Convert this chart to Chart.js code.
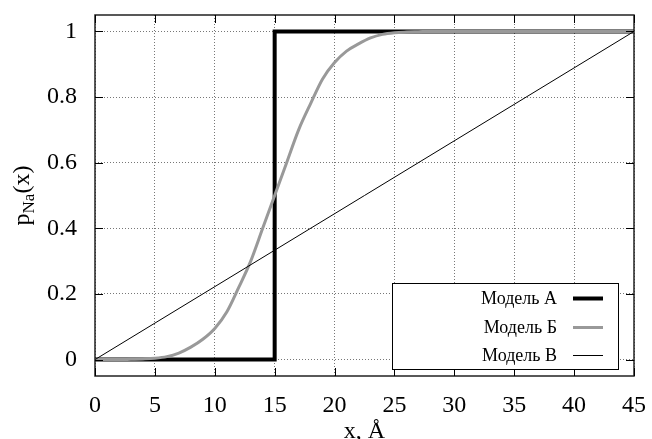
<!DOCTYPE html>
<html>
<head>
<meta charset="utf-8">
<script src="https://cdn.jsdelivr.net/npm/chart.js@4"></script>
<style>
  html, body { margin: 0; padding: 0; background: #fff; }
  #wrap { width: 652px; height: 439px; }
</style>
</head>
<body>
<div id="wrap"><canvas id="chart" width="652" height="439"></canvas></div>
<script>
// data
const xTicks = [0, 5, 10, 15, 20, 25, 30, 35, 40, 45];
const yTicks = [0, 0.2, 0.4, 0.6, 0.8, 1];
const yTickLabels = ["0", "0.2", "0.4", "0.6", "0.8", "1"];

const modelAx = [0, 15, 15, 45];
const modelAy = [0, 0, 1, 1];

const modelBx = [0, 2, 3, 4, 5, 6, 7, 8, 9, 10, 11, 12, 13, 14, 15, 16, 17, 18, 19, 20, 21, 22, 23, 24, 25, 26, 27, 28, 30, 45];
const modelBy = [0, 0, 0.001, 0.002, 0.004, 0.009, 0.02, 0.038, 0.062, 0.095, 0.145, 0.22, 0.3, 0.4, 0.5, 0.6, 0.7, 0.78, 0.855, 0.905, 0.94, 0.962, 0.98, 0.991, 0.996, 0.998, 0.999, 1, 1, 1];

const modelCx = [0, 45];
const modelCy = [0, 1];

const labels = ["Модель А", "Модель Б", "Модель В"];
const colors = ["#000000", "#999999", "#000000"];
const widths = [4, 3, 1];

const toPoints = (xs, ys) => xs.map((x, i) => ({ x: x, y: ys[i] }));

const serif = "'Liberation Serif', 'DejaVu Serif', serif";

// gnuplot style: inward ticks on all four sides, border, legend box, axis titles
const frame = {
  id: "frame",
  afterDraw(chart) {
    const { ctx, chartArea: a, scales } = chart;
    ctx.save();
    ctx.strokeStyle = "#222";
    ctx.lineWidth = 1.5;
    ctx.strokeRect(a.left, a.top, a.right - a.left, a.bottom - a.top);
    ctx.lineWidth = 1;
    ctx.strokeStyle = "#000";
    ctx.beginPath();
    xTicks.forEach(v => {
      const px = Math.round(scales.x.getPixelForValue(v)) + 0.5;
      ctx.moveTo(px, a.bottom); ctx.lineTo(px, a.bottom - 8);
      ctx.moveTo(px, a.top); ctx.lineTo(px, a.top + 8);
    });
    yTicks.forEach(v => {
      const py = Math.round(scales.y.getPixelForValue(v)) + 0.5;
      ctx.moveTo(a.left, py); ctx.lineTo(a.left + 8, py);
      ctx.moveTo(a.right, py); ctx.lineTo(a.right - 8, py);
    });
    ctx.stroke();

    // legend
    const bx = 392, by = 283, bw = 226, bh = 86;
    ctx.fillStyle = "#fff";
    ctx.fillRect(bx, by, bw, bh);
    ctx.strokeStyle = "#000";
    ctx.lineWidth = 1;
    ctx.strokeRect(bx + 0.5, by + 0.5, bw, bh);
    ctx.font = "18px " + serif;
    ctx.textAlign = "right";
    ctx.textBaseline = "middle";
    const rows = [298.5, 327.5, 355.5];
    labels.forEach((t, i) => {
      ctx.fillStyle = "#000";
      ctx.fillText(t, 557, rows[i] + 1);
      ctx.strokeStyle = colors[i];
      ctx.lineWidth = widths[i];
      ctx.beginPath();
      ctx.moveTo(573, rows[i]); ctx.lineTo(603, rows[i]);
      ctx.stroke();
    });

    // y title with subscript
    ctx.save();
    ctx.translate(29, (a.top + a.bottom) / 2);
    ctx.rotate(-Math.PI / 2);
    ctx.fillStyle = "#000";
    ctx.textBaseline = "alphabetic";
    ctx.textAlign = "left";
    ctx.font = "24px " + serif;
    const wp = ctx.measureText("p").width;
    ctx.font = "17px " + serif;
    const wn = ctx.measureText("Na").width;
    ctx.font = "24px " + serif;
    const wx = ctx.measureText("(x)").width;
    let sx = -(wp + wn + wx) / 2;
    ctx.fillText("p", sx, 0);
    sx += wp;
    ctx.font = "17px " + serif;
    ctx.fillText("Na", sx, 5);
    sx += wn;
    ctx.font = "24px " + serif;
    ctx.fillText("(x)", sx, 0);
    ctx.restore();

    // x title
    ctx.font = "24px " + serif;
    ctx.textAlign = "center";
    ctx.textBaseline = "alphabetic";
    ctx.fillStyle = "#000";
    ctx.fillText("x, Å", (a.left + a.right) / 2, 438);
    ctx.restore();
  }
};

new Chart(document.getElementById("chart"), {
  type: "scatter",
  data: {
    datasets: [
      { label: labels[0], data: toPoints(modelAx, modelAy), showLine: true, borderColor: colors[0], borderWidth: widths[0], pointRadius: 0, order: 3, borderCapStyle: "butt", borderJoinStyle: "miter" },
      { label: labels[1], data: toPoints(modelBx, modelBy), showLine: true, borderColor: colors[1], borderWidth: widths[1], pointRadius: 0, order: 2, cubicInterpolationMode: "monotone" },
      { label: labels[2], data: toPoints(modelCx, modelCy), showLine: true, borderColor: colors[2], borderWidth: widths[2], pointRadius: 0, order: 1 }
    ]
  },
  options: {
    responsive: false,
    animation: false,
    events: [],
    layout: { padding: { top: 15, right: 18, left: 0, bottom: 0 } },
    scales: {
      x: {
        type: "linear", min: 0, max: 45,
        afterBuildTicks: s => { s.ticks = xTicks.map(v => ({ value: v })); },
        afterFit: s => { s.height = 63; s.paddingLeft = 0; s.paddingRight = 0; },
        grid: { color: "#777", lineWidth: 1, drawTicks: false },
        border: { display: false, dash: [1, 2] },
        ticks: { color: "#000", padding: 15, font: { family: serif, size: 24 }, maxRotation: 0 }
      },
      y: {
        type: "linear", min: -0.05, max: 1.05,
        afterBuildTicks: s => { s.ticks = yTicks.map(v => ({ value: v })); },
        afterFit: s => { s.width = 95; s.paddingTop = 0; s.paddingBottom = 0; },
        grid: { color: "#777", lineWidth: 1, drawTicks: false },
        border: { display: false, dash: [1, 2] },
        ticks: { color: "#000", padding: 18, font: { family: serif, size: 24 }, callback: (v, i) => yTickLabels[i] }
      }
    },
    plugins: { legend: { display: false }, tooltip: { enabled: false } }
  },
  plugins: [frame]
});
</script>
</body>
</html>
